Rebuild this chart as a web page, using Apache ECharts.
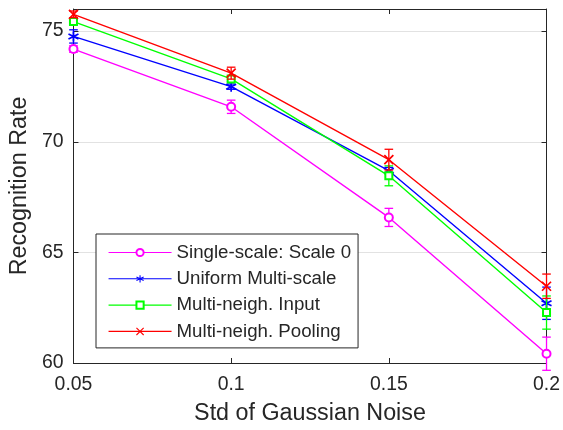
<!DOCTYPE html>
<html>
<head>
<meta charset="utf-8">
<script src="https://cdn.jsdelivr.net/npm/echarts@6/dist/echarts.min.js"></script>
<style>
html,body{margin:0;padding:0;background:#fff;}
#chart{width:563px;height:430px;}
</style>
</head>
<body>
<div id="chart"></div>
<script>
var categories = ['0.05', '0.1', '0.15', '0.2'];
var yTicks = [60, 65, 70, 75];

var seriesNames = ['Single-scale: Scale 0', 'Uniform Multi-scale', 'Multi-neigh. Input', 'Multi-neigh. Pooling'];
var singleScale = [74.19, 71.58, 66.58, 60.42];
var singleScaleErr = [0.15, 0.30, 0.41, 0.75];
var uniformMulti = [74.76, 72.49, 68.69, 62.70];
var uniformMultiErr = [0.30, 0.12, 0.15, 0.73];
var neighInput = [75.43, 72.84, 68.46, 62.28];
var neighInputErr = [0.15, 0.12, 0.45, 0.75];
var neighPooling = [75.76, 73.10, 69.19, 63.47];
var neighPoolingErr = [0.15, 0.27, 0.47, 0.55];

var colors = ['#ff00ff', '#0000ff', '#00ff00', '#ff0000'];
var FONT = '"Liberation Sans", Arial, Helvetica, sans-serif';
var TXT = '#262626';

var asteriskPath = 'path://M5,0L5,10M0.7,2.5L9.3,7.5M9.3,2.5L0.7,7.5';
var crossPath = 'path://M0,0L10,10M10,0L0,10';

var symbols = ['emptyCircle', asteriskPath, 'emptyRect', crossPath];
var symbolSizes = [8, 10, 7, 9];
var symbolStroke = [1.3, 1.7, 1.3, 1.7];
var values = [singleScale, uniformMulti, neighInput, neighPooling];
var errs = [singleScaleErr, uniformMultiErr, neighInputErr, neighPoolingErr];

var series = [];
for (var i = 0; i < 4; i++) {
  (function (k) {
    series.push({
      name: seriesNames[k] + ' err',
      type: 'custom',
      xAxisIndex: 0, yAxisIndex: 0,
      clip: false,
      silent: true,
      z: 2 + k * 2,
      data: values[k].map(function (v, j) { return [j, v, errs[k][j]]; }),
      renderItem: function (params, api) {
        var x = api.value(0), y = api.value(1), e = api.value(2);
        var top = api.coord([x, y + e]);
        var bot = api.coord([x, y - e]);
        var cw = 4.3;
        var st = { stroke: colors[k], lineWidth: 1.3 };
        return {
          type: 'group',
          children: [
            { type: 'line', shape: { x1: top[0], y1: top[1], x2: bot[0], y2: bot[1] }, style: st },
            { type: 'line', shape: { x1: top[0] - cw, y1: top[1], x2: top[0] + cw, y2: top[1] }, style: st },
            { type: 'line', shape: { x1: bot[0] - cw, y1: bot[1], x2: bot[0] + cw, y2: bot[1] }, style: st }
          ]
        };
      }
    });
    series.push({
      name: seriesNames[k],
      type: 'line',
      xAxisIndex: 0, yAxisIndex: 0,
      data: values[k],
      clip: false,
      z: 3 + k * 2,
      symbol: symbols[k],
      symbolSize: symbolSizes[k],
      showAllSymbol: true,
      color: colors[k],
      lineStyle: { color: colors[k], width: 1.4 },
      itemStyle: { color: (k === 1 || k === 3) ? 'none' : colors[k], borderColor: colors[k], borderWidth: symbolStroke[k] },
      emphasis: { disabled: true },
      animation: false
    });
  })(i);
}

var option = {
  animation: false,
  backgroundColor: '#ffffff',
  grid: { left: 72, right: 16, top: 9, bottom: 66, containLabel: false },
  legend: {
    data: seriesNames,
    orient: 'vertical',
    left: 96,
    top: 234,
    backgroundColor: '#ffffff',
    borderColor: TXT,
    borderWidth: 1,
    borderRadius: 0,
    padding: [9, 7, 7, 12],
    itemGap: 7.3,
    itemWidth: 63,
    itemHeight: 9,
    selectedMode: false,
    lineStyle: { width: 1.1 },
    itemStyle: { borderWidth: 1.1 },
    textStyle: { fontFamily: FONT, fontSize: 18.7, color: TXT, lineHeight: 18.7 }
  },
  xAxis: [{
    type: 'category',
    data: categories,
    boundaryGap: false,
    name: 'Std of Gaussian Noise',
    nameLocation: 'middle',
    nameGap: 39,
    nameTextStyle: { fontFamily: FONT, fontSize: 23.3, color: TXT },
    axisLine: { show: true, lineStyle: { color: TXT, width: 1 } },
    axisTick: { show: true, inside: true, length: 5, alignWithLabel: true, lineStyle: { color: TXT } },
    axisLabel: { fontFamily: FONT, fontSize: 19.4, color: TXT, margin: 12 },
    splitLine: { show: false }
  }, {
    type: 'category',
    data: categories,
    boundaryGap: false,
    position: 'top',
    axisLine: { show: true, lineStyle: { color: TXT, width: 1 } },
    axisTick: { show: true, inside: true, length: 5, lineStyle: { color: TXT } },
    axisLabel: { show: false },
    splitLine: { show: false }
  }],
  yAxis: [{
    type: 'value',
    min: 60, max: 76, interval: 5,
    name: 'Recognition Rate',
    nameLocation: 'middle',
    nameGap: 38,
    nameTextStyle: { fontFamily: FONT, fontSize: 23.3, color: TXT },
    axisLine: { show: true, lineStyle: { color: TXT, width: 1 } },
    axisTick: { show: true, inside: true, length: 5, lineStyle: { color: TXT } },
    axisLabel: {
      fontFamily: FONT, fontSize: 19.4, color: TXT, margin: 10,
      formatter: function (v) { return yTicks.indexOf(v) >= 0 ? String(v) : ''; }
    },
    splitLine: { show: true, lineStyle: { color: '#e2e2e2', width: 1 } }
  }, {
    type: 'value',
    min: 60, max: 76, interval: 5,
    position: 'right',
    axisLine: { show: true, lineStyle: { color: TXT, width: 1 } },
    axisTick: { show: true, inside: true, length: 5, lineStyle: { color: TXT } },
    axisLabel: { show: false },
    splitLine: { show: false }
  }],
  series: series
};

var chart = echarts.init(document.getElementById('chart'), null, { renderer: 'canvas' });
chart.setOption(option);
</script>
</body>
</html>
